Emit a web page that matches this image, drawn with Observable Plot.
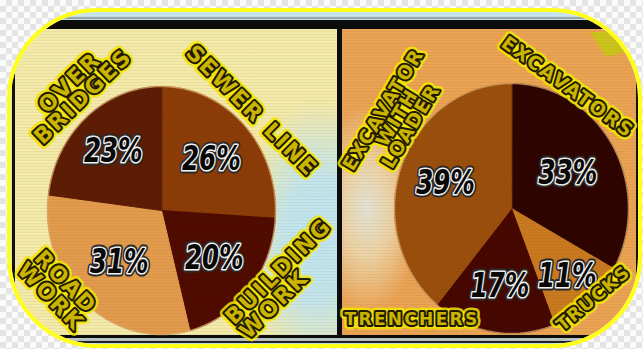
<!DOCTYPE html>
<html><head><meta charset="utf-8">
<script src="https://cdn.jsdelivr.net/npm/d3@7"></script>
<script src="https://cdn.jsdelivr.net/npm/@observablehq/plot@0.6"></script>
<style>
html,body{margin:0;padding:0;}
body{width:643px;height:349px;position:relative;overflow:hidden;background-color:#fafafa;
 background-image:linear-gradient(45deg,#e4e4e4 25%,transparent 25%,transparent 75%,#e4e4e4 75%),linear-gradient(45deg,#e4e4e4 25%,transparent 25%,transparent 75%,#e4e4e4 75%);
 background-size:12px 12px;background-position:0 0,6px 6px;}
#clip{position:absolute;left:11px;top:12px;width:627px;height:332px;border-radius:86px;overflow:hidden;background:#c6e7f1;}
#ring{position:absolute;left:7px;top:8px;width:635px;height:340px;box-sizing:border-box;border:4px solid #ffff1a;border-radius:90px;pointer-events:none;}
.abs{position:absolute;}
#lp{left:4px;top:17px;width:322px;height:306px;background:radial-gradient(ellipse 75px 140px at 302px 210px,#bfe3ef 0%,#c4e5ea 45%,rgba(243,233,168,0) 100%),#f3e9a8;}
#rp{left:331px;top:17px;width:294px;height:306px;background:radial-gradient(ellipse 55px 105px at 25px 180px,#e2e2d4 0%,#ecd2a4 45%,rgba(234,162,83,0) 100%),#eaa253;}
#tri{left:248px;top:0px;width:40px;height:30px;background:#cbc41c;clip-path:polygon(0 3px,40px 3px,40px 22px,16px 28px);}
#tex{left:0;top:0;width:627px;height:332px;pointer-events:none;
 background:repeating-linear-gradient(0deg,rgba(60,30,0,0.05) 0px,rgba(60,30,0,0.05) 1px,rgba(255,255,255,0) 1px,rgba(255,255,255,0) 3px);}
svg{overflow:visible;}
</style>
</head><body>
<div id="clip">
  <div class="abs" style="left:0;top:5px;width:627px;height:2px;background:#9aa6a8"></div>
  <div class="abs" style="left:0;top:8px;width:627px;height:9px;background:#0b0b0b"></div>
  <div class="abs" id="lp"></div>
  <div class="abs" id="rp"><div class="abs" id="tri"></div></div>
  <div class="abs" style="left:1px;top:17px;width:3px;height:306px;background:#111"></div>
  <div class="abs" style="left:326px;top:8px;width:5px;height:318px;background:#0b0b0b"></div>
  <div class="abs" style="left:625px;top:8px;width:4px;height:318px;background:#111"></div>
  <div class="abs" style="left:0;top:323px;width:627px;height:3px;background:#0b0b0b"></div>
  <div class="abs" style="left:0;top:326px;width:627px;height:3px;background:#b9c3c4"></div>
  <div class="abs" style="left:0;top:329px;width:627px;height:2px;background:#222"></div>
  <div class="abs" id="leftChart" style="left:4px;top:17px;"></div>
  <div class="abs" id="rightChart" style="left:331px;top:17px;"></div>
  <div class="abs" id="tex"></div>
</div>
<div id="ring"></div>
<script>
// ---- data ----
const leftCategories = ["SEWER LINE", "BUILDING\nWORK", "ROAD\nWORK", "OVER\nBRIDGES"];
const leftValues = [26, 20, 31, 23];
const leftColors = ["#8b3c07", "#500b01", "#e29b4c", "#5d1c04"];

const rightCategories = ["EXCAVATORS", "TRUCKS", "TRENCHERS", "EXCAVATOR\nWITH\nLOADER"];
const rightValues = [33, 11, 17, 39];
const rightColors = ["#2e0400", "#c97a21", "#460700", "#9b4f0d"];

// ---- layout (label offsets in pie-radius units, rotation in degrees, font size, letter spacing) ----
const leftLabelLayout = [
  {dx: 0.79, dy: 0.80, rotate: 45, anchor: "middle", size: 22, ls: 2.5, lh: 0.95},
  {dx: 0.66, dy: -0.95, rotate: -45, anchor: "start", size: 22, ls: 2.5, lh: 0.92},
  {dx: -0.91, dy: -0.64, rotate: 46, anchor: "middle", size: 22, ls: 2, lh: 0.95},
  {dx: -0.74, dy: 0.97, rotate: -44, anchor: "middle", size: 22, ls: 2.5, lh: 0.88}
];
const rightLabelLayout = [
  {dx: 0.48, dy: 0.97, rotate: 36, anchor: "middle", size: 19, ls: 2, lh: 1},
  {dx: 0.70, dy: -0.72, rotate: -40, anchor: "middle", size: 18, ls: 1.5, lh: 1},
  {dx: -0.85, dy: -0.89, rotate: 0, anchor: "middle", size: 17, ls: 2.3, lh: 1},
  {dx: -0.97, dy: 0.72, rotate: -59, anchor: "middle", size: 19, ls: 1.5, lh: 0.85}
];
const leftPctRadius = [0.6, 0.6, 0.56, 0.64];
const rightPctRadius = [0.56, 0.72, 0.63, 0.6];

function pieChart({cats, vals, colors, layout, pctR, width, height, margins}) {
  const arcs = d3.pie().sort(null).value(d => d)(vals);
  const slices = arcs.map((a) => {
    const pts = [{x: 0, y: 0}];
    const n = Math.max(2, Math.ceil((a.endAngle - a.startAngle) / 0.01));
    for (let k = 0; k <= n; k++) {
      const t = a.startAngle + (a.endAngle - a.startAngle) * k / n;
      pts.push({x: Math.sin(t), y: Math.cos(t)});
    }
    return pts;
  });
  const circle = d3.range(0, 361, 2).map(d => ({x: Math.sin(d * Math.PI / 180), y: Math.cos(d * Math.PI / 180)}));
  const pcts = arcs.map((a, i) => {
    const m = (a.startAngle + a.endAngle) / 2;
    return {x: pctR[i] * Math.sin(m), y: pctR[i] * Math.cos(m), text: vals[i] + "%"};
  });
  const catMarks = [];
  cats.forEach((c, i) => {
    const L = layout[i];
    const d = [{x: L.dx, y: L.dy, text: c}];
    const base = {x: "x", y: "y", text: "text", rotate: L.rotate, textAnchor: L.anchor, lineAnchor: "middle",
      lineHeight: L.lh, fontFamily: "DejaVu Sans", fontWeight: "bold", fontSize: L.size, ariaDescription: "cat " + L.ls};
    catMarks.push(Plot.text(d, {...base, fill: "#f6e800", stroke: "#f6e800", strokeWidth: 9, strokeLinejoin: "round", strokeOpacity: 0.85}));
    catMarks.push(Plot.text(d, {...base, fill: "#ccb600", stroke: "#1f1a00", strokeWidth: 4, strokeLinejoin: "round"}));
  });
  const pctBase = {x: "x", y: "y", text: "text", fontFamily: "DejaVu Sans Condensed, DejaVu Sans, sans-serif",
    fontStyle: "italic", fontWeight: "bold", fontSize: 34, ariaDescription: "pct"};
  return Plot.plot({
    width, height,
    marginLeft: margins[0], marginRight: margins[1], marginTop: margins[2], marginBottom: margins[3],
    x: {domain: [-1, 1], axis: null},
    y: {domain: [-1, 1], axis: null},
    style: {background: "transparent", overflow: "visible"},
    marks: [
      ...slices.map((pts, i) => Plot.line(pts, {x: "x", y: "y", fill: colors[i], stroke: colors[i], strokeWidth: 1, curve: "linear-closed"})),
      Plot.line(circle, {x: "x", y: "y", stroke: "#d9aa6c", strokeWidth: 1.5, strokeOpacity: 0.75, curve: "linear-closed"}),
      Plot.text(pcts, {...pctBase, fill: "#111", stroke: "#2a2a2a", strokeWidth: 7, strokeLinejoin: "round"}),
      Plot.text(pcts, {...pctBase, fill: "#080808", stroke: "#f2f2f2", strokeWidth: 3.2, strokeLinejoin: "round"}),
      ...catMarks
    ]
  });
}

function finish(svg) {
  svg.querySelectorAll('g[aria-description^="cat "]').forEach(g => {
    g.style.letterSpacing = g.getAttribute("aria-description").split(" ")[1] + "px";
  });
  svg.querySelectorAll('g[aria-description="pct"] text').forEach(t => {
    const len = t.getComputedTextLength();
    if (len > 0) {
      t.setAttribute("textLength", (len * 0.8).toFixed(1));
      t.setAttribute("lengthAdjust", "spacingAndGlyphs");
    }
  });
}

const left = pieChart({
  cats: leftCategories, vals: leftValues, colors: leftColors, layout: leftLabelLayout, pctR: leftPctRadius,
  width: 322, height: 306, margins: [32, 62, 57, 1]
});
document.getElementById("leftChart").append(left);
finish(left);
const right = pieChart({
  cats: rightCategories, vals: rightValues, colors: rightColors, layout: rightLabelLayout, pctR: rightPctRadius,
  width: 294, height: 306, margins: [52, 8, 54, 2]
});
document.getElementById("rightChart").append(right);
finish(right);
</script>
</body></html>
